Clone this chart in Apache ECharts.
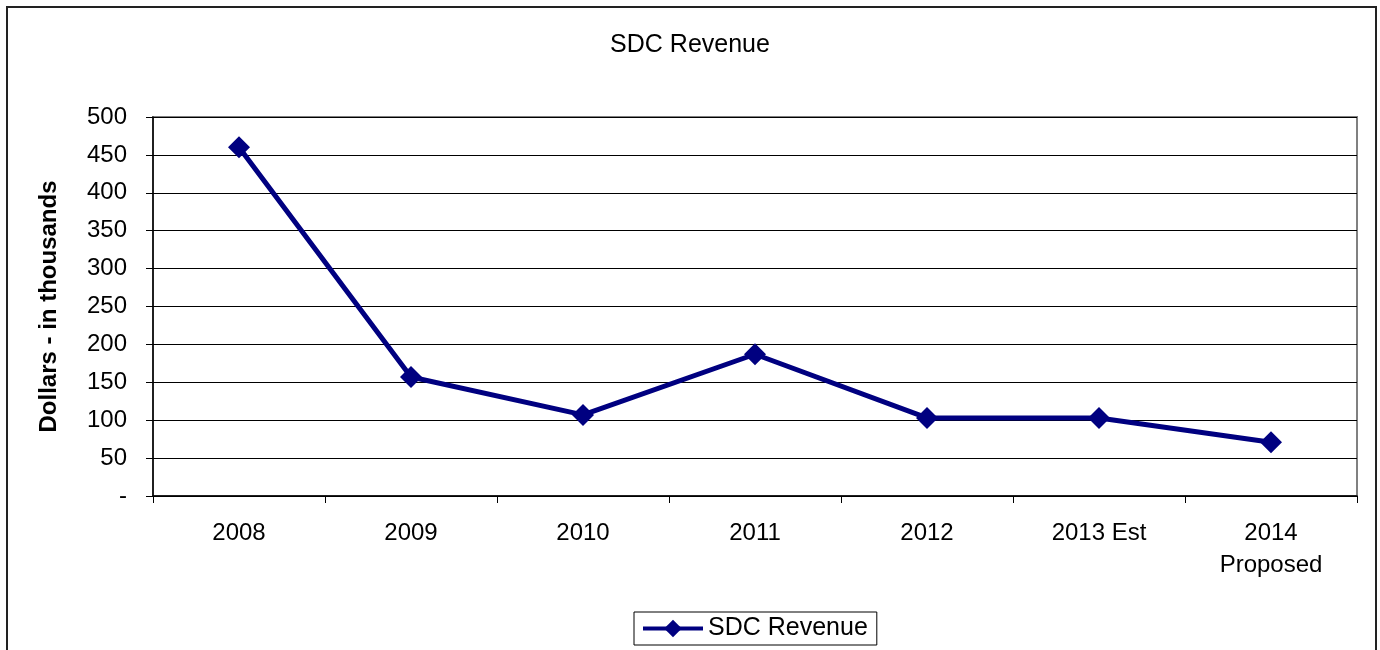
<!DOCTYPE html>
<html>
<head>
<meta charset="utf-8">
<script src="https://cdn.jsdelivr.net/npm/echarts@6/dist/echarts.min.js"></script>
<style>
  html, body { margin: 0; padding: 0; background: #fff; }
  #chart { width: 1380px; height: 650px; }
</style>
</head>
<body>
<div id="chart"></div>
<script>
// Fiscal years shown along the category axis
const years = ['2008', '2009', '2010', '2011', '2012', '2013 Est', '2014\nProposed'];
// SDC revenue, dollars in thousands
const sdcRevenue = [460, 157, 107, 187, 103, 103, 71];
// Value axis range and step
const yMin = 0;
const yMax = 500;
const yStep = 50;

const FONT = 'Arial, "Liberation Sans", sans-serif';
const NAVY = '#000080';
const chart = echarts.init(document.getElementById('chart'), null, { renderer: 'canvas' });

chart.setOption({
  backgroundColor: '#fff',
  animation: false,
  title: {
    text: 'SDC Revenue',
    left: 'center',
    top: 28,
    textStyle: { fontFamily: FONT, fontSize: 25, fontWeight: 'normal', color: '#000' }
  },
  grid: {
    left: 153, right: 23, top: 117, bottom: 154,
    show: true,
    borderColor: '#808080',
    borderWidth: 2,
    backgroundColor: '#fff'
  },
  legend: {
    bottom: 5,
    left: 634,
    data: ['SDC Revenue'],
    itemWidth: 60,
    itemHeight: 22,
    itemGap: 6,
    padding: [4, 9, 4, 7],
    borderColor: '#000',
    borderWidth: 1,
    lineStyle: { color: NAVY, width: 4 },
    textStyle: { fontFamily: FONT, fontSize: 25, color: '#000' }
  },
  xAxis: {
    type: 'category',
    data: years,
    boundaryGap: true,
    axisLine: { show: true, lineStyle: { color: '#000', width: 1.5 } },
    axisTick: { show: true, alignWithLabel: false, length: 7, lineStyle: { color: '#000', width: 1 } },
    axisLabel: {
      interval: 0,
      margin: 21,
      fontFamily: FONT,
      fontSize: 24,
      color: '#000',
      lineHeight: 32
    },
    splitLine: { show: false }
  },
  yAxis: {
    type: 'value',
    min: yMin,
    max: yMax,
    interval: yStep,
    name: 'Dollars - in thousands',
    nameLocation: 'middle',
    nameGap: 92,
    nameTextStyle: { fontFamily: FONT, fontSize: 24, fontWeight: 'bold', color: '#000' },
    axisLine: { show: true, lineStyle: { color: '#000', width: 1.5 } },
    axisTick: { show: true, length: 7, lineStyle: { color: '#000', width: 1 } },
    axisLabel: {
      margin: 26,
      fontFamily: FONT,
      fontSize: 24,
      color: '#000',
      formatter: v => (v === 0 ? '-' : String(v))
    },
    splitLine: { show: true, lineStyle: { color: '#000', width: 1 } }
  },
  series: [{
    name: 'SDC Revenue',
    type: 'line',
    data: sdcRevenue,
    symbol: 'diamond',
    symbolSize: 22,
    lineStyle: { color: NAVY, width: 5 },
    itemStyle: { color: NAVY },
    emphasis: { disabled: true }
  }],
  graphic: [{
    type: 'rect',
    shape: { x: 7, y: 7, width: 1369, height: 680 },
    style: { fill: null, stroke: '#222', lineWidth: 2 },
    silent: true,
    z: 100
  }]
});
</script>
</body>
</html>
